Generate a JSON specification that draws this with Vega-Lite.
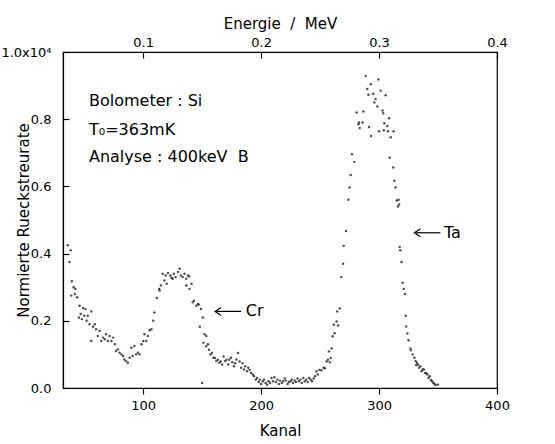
{
  "$schema": "https://vega.github.io/schema/vega-lite/v6.json",
  "width": 434,
  "height": 336,
  "autosize": {"type": "none"},
  "padding": {"left": 63, "top": 52, "right": 58, "bottom": 56},
  "background": "white",
  "config": {
    "font": "DejaVu Sans",
    "view": {"stroke": "black", "strokeWidth": 1.2},
    "axis": {
      "grid": false,
      "domainColor": "black",
      "domainWidth": 1.2,
      "tickColor": "black",
      "tickWidth": 1.2,
      "labelColor": "black",
      "titleColor": "black",
      "labelFont": "DejaVu Sans",
      "titleFont": "DejaVu Sans",
      "labelFontSize": 13,
      "titleFontSize": 15,
      "titleFontWeight": "normal"
    }
  },
  "datasets": {
    "spectrum": [
      {"Kanal":36,"Rate":0.425},{"Kanal":37.5,"Rate":0.375},{"Kanal":38.5,"Rate":0.41},{"Kanal":39,"Rate":0.275},{"Kanal":39.5,"Rate":0.318},{"Kanal":41,"Rate":0.3},{"Kanal":42,"Rate":0.28},{"Kanal":42.5,"Rate":0.295},{"Kanal":44,"Rate":0.27},{"Kanal":45.5,"Rate":0.21},{"Kanal":46,"Rate":0.245},{"Kanal":47,"Rate":0.22},{"Kanal":48,"Rate":0.205},{"Kanal":49,"Rate":0.238},{"Kanal":50,"Rate":0.215},{"Kanal":51,"Rate":0.235},{"Kanal":52,"Rate":0.2},{"Kanal":53,"Rate":0.215},{"Kanal":54.5,"Rate":0.19},{"Kanal":56,"Rate":0.228},{"Kanal":56,"Rate":0.14},{"Kanal":57.5,"Rate":0.182},{"Kanal":59,"Rate":0.19},{"Kanal":60,"Rate":0.175},{"Kanal":61.5,"Rate":0.155},{"Kanal":63,"Rate":0.17},{"Kanal":64.5,"Rate":0.14},{"Kanal":66,"Rate":0.15},{"Kanal":67.5,"Rate":0.145},{"Kanal":68.5,"Rate":0.16},{"Kanal":70,"Rate":0.14},{"Kanal":71.5,"Rate":0.155},{"Kanal":73,"Rate":0.14},{"Kanal":74.5,"Rate":0.15},{"Kanal":76,"Rate":0.13},{"Kanal":77,"Rate":0.11},{"Kanal":78.5,"Rate":0.115},{"Kanal":80,"Rate":0.105},{"Kanal":81.5,"Rate":0.1},{"Kanal":83,"Rate":0.095},{"Kanal":84,"Rate":0.085},{"Kanal":85.5,"Rate":0.08},{"Kanal":87,"Rate":0.075},{"Kanal":88.5,"Rate":0.09},{"Kanal":90,"Rate":0.12},{"Kanal":91,"Rate":0.095},{"Kanal":92.5,"Rate":0.125},{"Kanal":94,"Rate":0.1},{"Kanal":95.5,"Rate":0.105},{"Kanal":97,"Rate":0.1},{"Kanal":98.5,"Rate":0.13},{"Kanal":100,"Rate":0.14},{"Kanal":101,"Rate":0.16},{"Kanal":102.5,"Rate":0.14},{"Kanal":104,"Rate":0.155},{"Kanal":105.5,"Rate":0.172},{"Kanal":107,"Rate":0.175},{"Kanal":108.5,"Rate":0.2},{"Kanal":109.5,"Rate":0.225},{"Kanal":111.5,"Rate":0.268},{"Kanal":113.5,"Rate":0.295},{"Kanal":114,"Rate":0.29},{"Kanal":115,"Rate":0.305},{"Kanal":116.5,"Rate":0.34},{"Kanal":118,"Rate":0.32},{"Kanal":119,"Rate":0.335},{"Kanal":120,"Rate":0.31},{"Kanal":121,"Rate":0.342},{"Kanal":123,"Rate":0.335},{"Kanal":124,"Rate":0.328},{"Kanal":125,"Rate":0.325},{"Kanal":126,"Rate":0.34},{"Kanal":127.5,"Rate":0.33},{"Kanal":129.5,"Rate":0.345},{"Kanal":131,"Rate":0.355},{"Kanal":132,"Rate":0.335},{"Kanal":133.5,"Rate":0.33},{"Kanal":135,"Rate":0.34},{"Kanal":136.5,"Rate":0.325},{"Kanal":136.6,"Rate":0.305},{"Kanal":138,"Rate":0.335},{"Kanal":139,"Rate":0.332},{"Kanal":139.2,"Rate":0.295},{"Kanal":141,"Rate":0.31},{"Kanal":142,"Rate":0.255},{"Kanal":143,"Rate":0.26},{"Kanal":145,"Rate":0.245},{"Kanal":146.5,"Rate":0.25},{"Kanal":147,"Rate":0.248},{"Kanal":148,"Rate":0.182},{"Kanal":149,"Rate":0.235},{"Kanal":150.5,"Rate":0.21},{"Kanal":150,"Rate":0.015},{"Kanal":151,"Rate":0.135},{"Kanal":152,"Rate":0.16},{"Kanal":153.5,"Rate":0.155},{"Kanal":153.4,"Rate":0.124},{"Kanal":155,"Rate":0.13},{"Kanal":155.8,"Rate":0.114},{"Kanal":157,"Rate":0.1},{"Kanal":158.3,"Rate":0.104},{"Kanal":159.5,"Rate":0.09},{"Kanal":160.8,"Rate":0.089},{"Kanal":162,"Rate":0.08},{"Kanal":163.2,"Rate":0.084},{"Kanal":164.5,"Rate":0.075},{"Kanal":165.7,"Rate":0.079},{"Kanal":167,"Rate":0.07},{"Kanal":168.1,"Rate":0.094},{"Kanal":169.5,"Rate":0.08},{"Kanal":170.6,"Rate":0.084},{"Kanal":172,"Rate":0.07},{"Kanal":173,"Rate":0.084},{"Kanal":174.5,"Rate":0.09},{"Kanal":175.5,"Rate":0.077},{"Kanal":177,"Rate":0.065},{"Kanal":178,"Rate":0.074},{"Kanal":179,"Rate":0.085},{"Kanal":180.4,"Rate":0.104},{"Kanal":181.7,"Rate":0.079},{"Kanal":183,"Rate":0.06},{"Kanal":184.2,"Rate":0.074},{"Kanal":185.5,"Rate":0.055},{"Kanal":186.6,"Rate":0.065},{"Kanal":188,"Rate":0.05},{"Kanal":189.1,"Rate":0.06},{"Kanal":190.3,"Rate":0.054},{"Kanal":191.5,"Rate":0.045},{"Kanal":193,"Rate":0.04},{"Kanal":194,"Rate":0.035},{"Kanal":195.5,"Rate":0.025},{"Kanal":196.5,"Rate":0.03},{"Kanal":198,"Rate":0.018},{"Kanal":198.9,"Rate":0.025},{"Kanal":200,"Rate":0.012},{"Kanal":201.4,"Rate":0.02},{"Kanal":202.5,"Rate":0.025},{"Kanal":203.8,"Rate":0.015},{"Kanal":205,"Rate":0.01},{"Kanal":206.3,"Rate":0.02},{"Kanal":207.5,"Rate":0.015},{"Kanal":208.8,"Rate":0.03},{"Kanal":210,"Rate":0.02},{"Kanal":211.2,"Rate":0.032},{"Kanal":212.5,"Rate":0.018},{"Kanal":213.7,"Rate":0.025},{"Kanal":215,"Rate":0.012},{"Kanal":216,"Rate":0.022},{"Kanal":217.5,"Rate":0.015},{"Kanal":218.6,"Rate":0.02},{"Kanal":220,"Rate":0.028},{"Kanal":221,"Rate":0.022},{"Kanal":222.5,"Rate":0.012},{"Kanal":223.5,"Rate":0.018},{"Kanal":225,"Rate":0.02},{"Kanal":226,"Rate":0.025},{"Kanal":227,"Rate":0.015},{"Kanal":228.4,"Rate":0.022},{"Kanal":229.5,"Rate":0.018},{"Kanal":230.9,"Rate":0.028},{"Kanal":232,"Rate":0.02},{"Kanal":233.4,"Rate":0.025},{"Kanal":234.5,"Rate":0.015},{"Kanal":235.8,"Rate":0.03},{"Kanal":237,"Rate":0.02},{"Kanal":238.3,"Rate":0.025},{"Kanal":239.5,"Rate":0.018},{"Kanal":240.7,"Rate":0.03},{"Kanal":242,"Rate":0.025},{"Kanal":243.2,"Rate":0.02},{"Kanal":244.5,"Rate":0.028},{"Kanal":245.7,"Rate":0.035},{"Kanal":246.9,"Rate":0.05},{"Kanal":248,"Rate":0.04},{"Kanal":249.3,"Rate":0.054},{"Kanal":251,"Rate":0.053},{"Kanal":253,"Rate":0.06},{"Kanal":254,"Rate":0.059},{"Kanal":255.5,"Rate":0.079},{"Kanal":256.7,"Rate":0.084},{"Kanal":257.5,"Rate":0.109},{"Kanal":258.3,"Rate":0.077},{"Kanal":259,"Rate":0.089},{"Kanal":259.8,"Rate":0.118},{"Kanal":260.6,"Rate":0.154},{"Kanal":261.6,"Rate":0.188},{"Kanal":262.4,"Rate":0.163},{"Kanal":264,"Rate":0.198},{"Kanal":264.5,"Rate":0.228},{"Kanal":265.2,"Rate":0.186},{"Kanal":266.7,"Rate":0.237},{"Kanal":268,"Rate":0.33},{"Kanal":269.5,"Rate":0.37},{"Kanal":270,"Rate":0.423},{"Kanal":272,"Rate":0.467},{"Kanal":274,"Rate":0.56},{"Kanal":275,"Rate":0.597},{"Kanal":276,"Rate":0.634},{"Kanal":277,"Rate":0.696},{"Kanal":279,"Rate":0.673},{"Kanal":281,"Rate":0.82},{"Kanal":282.5,"Rate":0.785},{"Kanal":283,"Rate":0.79},{"Kanal":283.6,"Rate":0.774},{"Kanal":286,"Rate":0.79},{"Kanal":286.7,"Rate":0.823},{"Kanal":288.7,"Rate":0.929},{"Kanal":290,"Rate":0.89},{"Kanal":291,"Rate":0.873},{"Kanal":291.5,"Rate":0.777},{"Kanal":293,"Rate":0.904},{"Kanal":293.2,"Rate":0.75},{"Kanal":295,"Rate":0.876},{"Kanal":296,"Rate":0.85},{"Kanal":297,"Rate":0.86},{"Kanal":298.6,"Rate":0.838},{"Kanal":299.4,"Rate":0.918},{"Kanal":300,"Rate":0.764},{"Kanal":301.4,"Rate":0.885},{"Kanal":303,"Rate":0.826},{"Kanal":303.5,"Rate":0.818},{"Kanal":304,"Rate":0.767},{"Kanal":304.5,"Rate":0.788},{"Kanal":305.6,"Rate":0.871},{"Kanal":307,"Rate":0.78},{"Kanal":307.5,"Rate":0.764},{"Kanal":308.5,"Rate":0.803},{"Kanal":309,"Rate":0.685},{"Kanal":310,"Rate":0.746},{"Kanal":312,"Rate":0.656},{"Kanal":312.3,"Rate":0.764},{"Kanal":313,"Rate":0.617},{"Kanal":314,"Rate":0.597},{"Kanal":315,"Rate":0.558},{"Kanal":316,"Rate":0.54},{"Kanal":316.5,"Rate":0.56},{"Kanal":317,"Rate":0.546},{"Kanal":317.5,"Rate":0.42},{"Kanal":318,"Rate":0.41},{"Kanal":319,"Rate":0.375},{"Kanal":320,"Rate":0.313},{"Kanal":321,"Rate":0.295},{"Kanal":322,"Rate":0.28},{"Kanal":322.6,"Rate":0.215},{"Kanal":323,"Rate":0.183},{"Kanal":324,"Rate":0.162},{"Kanal":325,"Rate":0.142},{"Kanal":326.5,"Rate":0.118},{"Kanal":327,"Rate":0.112},{"Kanal":328.5,"Rate":0.1},{"Kanal":330,"Rate":0.09},{"Kanal":331,"Rate":0.08},{"Kanal":331.5,"Rate":0.068},{"Kanal":332,"Rate":0.075},{"Kanal":333,"Rate":0.07},{"Kanal":334,"Rate":0.06},{"Kanal":335,"Rate":0.065},{"Kanal":336,"Rate":0.05},{"Kanal":337,"Rate":0.055},{"Kanal":338,"Rate":0.055},{"Kanal":339,"Rate":0.045},{"Kanal":340,"Rate":0.044},{"Kanal":341,"Rate":0.04},{"Kanal":342,"Rate":0.03},{"Kanal":343,"Rate":0.035},{"Kanal":344,"Rate":0.024},{"Kanal":345,"Rate":0.02},{"Kanal":346,"Rate":0.015},{"Kanal":347,"Rate":0.012},{"Kanal":348,"Rate":0.009},{"Kanal":350,"Rate":0.01}
    ],
    "notes": [
      {"Kanal": 54, "Rate": 0.855, "label": "Bolometer : Si"},
      {"Kanal": 54, "Rate": 0.769, "label": "T₀=363mK"},
      {"Kanal": 54, "Rate": 0.688, "label": "Analyse : 400keV\u00a0\u00a0B"},
      {"Kanal": 187, "Rate": 0.228, "label": "Cr"},
      {"Kanal": 355, "Rate": 0.462, "label": "Ta"}
    ],
    "arrows": [
      {"from": 161, "to": 183, "Rate": 0.228},
      {"from": 330, "to": 352, "Rate": 0.462}
    ]
  },
  "layer": [
    {
      "data": {"name": "spectrum"},
      "mark": {"type": "circle", "size": 6, "color": "#222222", "opacity": 0.8},
      "encoding": {
        "x": {
          "field": "Kanal", "type": "quantitative",
          "scale": {"domain": [32, 400], "nice": false, "zero": false},
          "axis": {"orient": "bottom", "values": [100, 200, 300, 400], "title": "Kanal", "tickSize": 6, "labelPadding": 5, "labelFlush": false, "titleX": 217, "titleY": 42, "titleBaseline": "middle"}
        },
        "y": {
          "field": "Rate", "type": "quantitative",
          "scale": {"domain": [0, 1], "nice": false, "zero": true},
          "axis": {"values": [0, 0.2, 0.4, 0.6, 0.8, 1.0], "labelExpr": "datum.value == 1 ? '1.0x10⁴' : format(datum.value, '.1f')", "title": "Normierte Rueckstreurate", "tickSize": -6, "labelPadding": 18, "titleX": -40, "titleY": 168, "titleBaseline": "middle"}
        }
      }
    },
    {
      "data": {"name": "arrows"},
      "mark": {"type": "rule", "color": "black", "strokeWidth": 1.2},
      "encoding": {
        "x": {"field": "from", "type": "quantitative", "scale": {"domain": [32, 400], "nice": false, "zero": false}, "axis": null},
        "x2": {"field": "to"},
        "y": {"field": "Rate", "type": "quantitative", "scale": {"domain": [0, 1], "nice": false}, "axis": null}
      }
    },
    {
      "data": {"name": "arrows"},
      "mark": {"type": "point", "shape": "M1.5,-1L0,0L1.5,1", "filled": false, "stroke": "black", "strokeWidth": 1.2, "size": 64, "opacity": 1},
      "encoding": {
        "x": {"field": "from", "type": "quantitative", "scale": {"domain": [32, 400], "nice": false, "zero": false}, "axis": null},
        "y": {"field": "Rate", "type": "quantitative", "scale": {"domain": [0, 1], "nice": false}, "axis": null}
      }
    },
    {
      "data": {"name": "notes"},
      "mark": {"type": "text", "align": "left", "baseline": "middle", "fontSize": 16, "font": "DejaVu Sans", "color": "black"},
      "encoding": {
        "x": {
          "field": "Kanal", "type": "quantitative",
          "scale": {"domain": [32, 400], "nice": false, "zero": false},
          "axis": {"orient": "top", "values": [100, 200, 300, 400], "labelExpr": "format(datum.value / 1000, '.1f')", "title": "Energie\u00a0\u00a0/\u00a0\u00a0MeV", "tickSize": -6, "labelPadding": 9, "labelFlush": false, "titleX": 217, "titleY": -29, "titleBaseline": "middle"}
        },
        "y": {"field": "Rate", "type": "quantitative", "scale": {"domain": [0, 1], "nice": false}, "axis": null},
        "text": {"field": "label"}
      }
    }
  ],
  "resolve": {"axis": {"x": "independent", "y": "independent"}}
}
